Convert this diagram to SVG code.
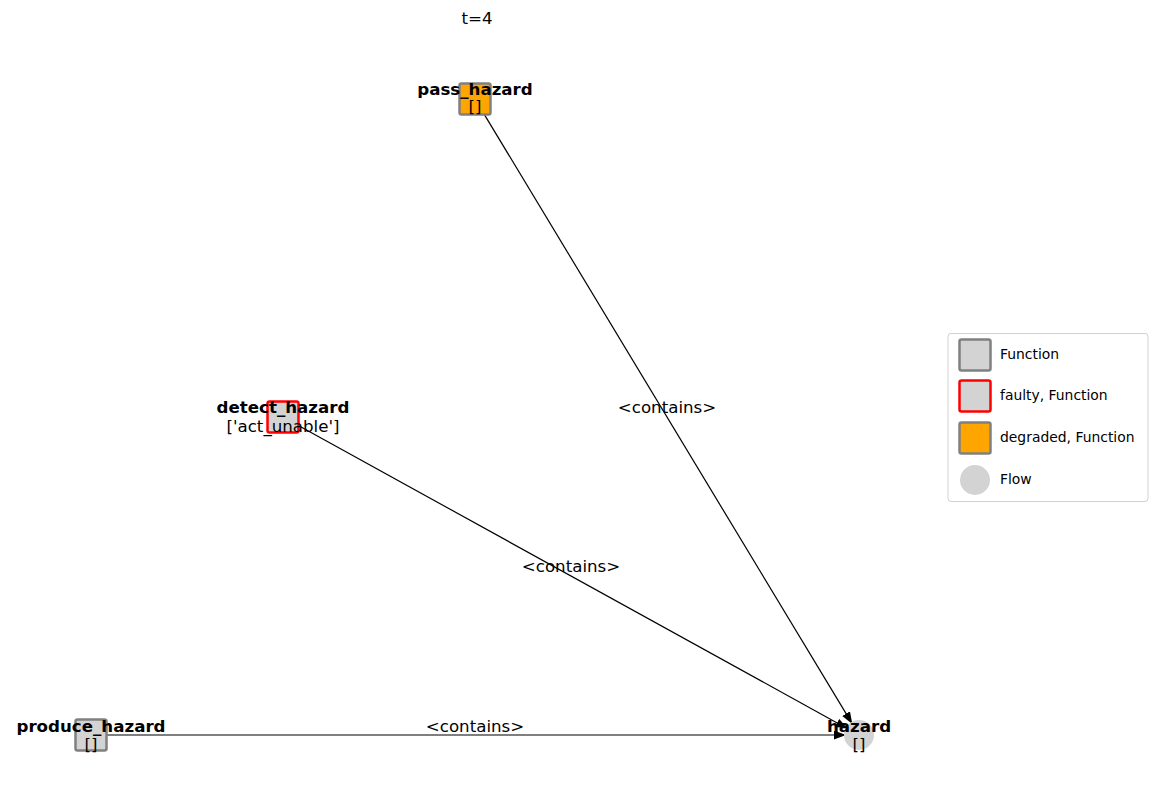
<svg xmlns="http://www.w3.org/2000/svg" width="1158" height="812" viewBox="0 0 1158 812">
<style>
text{font-family:"DejaVu Sans",sans-serif;fill:#000}
.t{font-size:16.67px;text-anchor:middle}
.b{font-size:16.67px;font-weight:bold;text-anchor:middle}
.lg{font-size:13.9px}
.fn{fill:#d3d3d3;stroke:#808080;stroke-width:2.5}
.fl{fill:#d3d3d3;stroke:#ff0000;stroke-width:2.5}
.dg{fill:#ffa500;stroke:#808080;stroke-width:2.5}
.flow{fill:#d3d3d3}
.e{stroke:#000;stroke-width:1.2;fill:none}
</style>
<defs>
<marker id="ah" markerUnits="userSpaceOnUse" markerWidth="14" markerHeight="10" refX="12" refY="4.5" orient="auto">
<path d="M0,0 L12,4.5 L0,9 z" fill="#000"/>
</marker>
</defs>
<rect width="1158" height="812" fill="#fff"/>
<text class="t" x="477" y="24">t=4</text>
<g id="edges">
<line class="e" x1="483.8" y1="113.6" x2="852.3" y2="723.9" marker-end="url(#ah)"/>
<line class="e" x1="297.9" y1="425.2" x2="847.6" y2="728.7" marker-end="url(#ah)"/>
<line class="e" x1="107" y1="735" x2="846" y2="735" marker-end="url(#ah)"/>
<text class="t" x="667" y="413">&lt;contains&gt;</text>
<text class="t" x="571" y="572">&lt;contains&gt;</text>
<text class="t" x="475" y="732">&lt;contains&gt;</text>
</g>
<g id="pass_hazard">
<rect class="dg" x="459.5" y="83.5" width="31" height="31" rx="2"/>
<text class="b" x="475" y="95">pass_hazard</text>
<text class="t" x="475" y="112">[]</text>
</g>
<g id="detect_hazard">
<rect class="fl" x="267.5" y="401.5" width="31" height="31" rx="2"/>
<text class="b" x="283" y="413">detect_hazard</text>
<text class="t" x="283" y="432">['act_unable']</text>
</g>
<g id="produce_hazard">
<rect class="fn" x="75.5" y="719.5" width="31" height="31" rx="2"/>
<text class="b" x="91" y="732">produce_hazard</text>
<text class="t" x="91" y="750">[]</text>
</g>
<g id="hazard">
<circle class="flow" cx="859" cy="735" r="15"/>
<text class="b" x="859" y="732">hazard</text>
<text class="t" x="859" y="750">[]</text>
</g>
<g id="legend">
<rect x="948" y="333.5" width="200" height="168" rx="3" fill="#fff" stroke="#d0d0d0" stroke-width="1"/>
<rect class="fn" x="959.5" y="339.5" width="31" height="31" rx="2"/>
<text class="lg" x="1000" y="359">Function</text>
<rect class="fl" x="959.5" y="380.5" width="31" height="31" rx="2"/>
<text class="lg" x="1000" y="400">faulty, Function</text>
<rect class="dg" x="959.5" y="422.5" width="31" height="31" rx="2"/>
<text class="lg" x="1000" y="442">degraded, Function</text>
<circle class="flow" cx="975" cy="480" r="15"/>
<text class="lg" x="1000" y="484">Flow</text>
</g>
</svg>
